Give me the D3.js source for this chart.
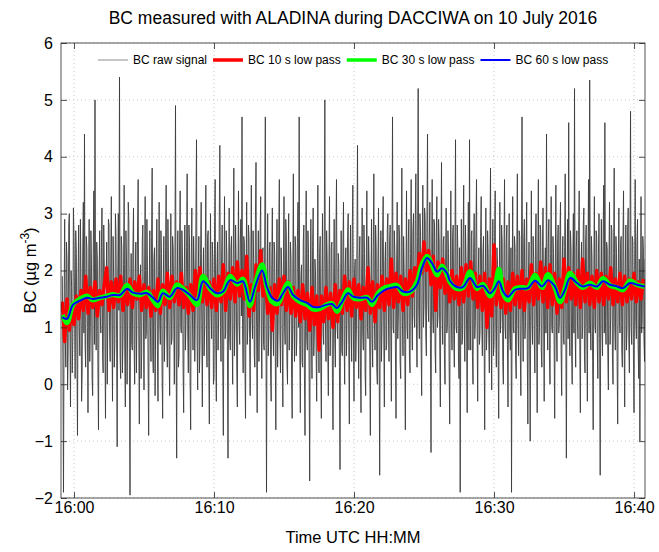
<!DOCTYPE html>
<html>
<head>
<meta charset="utf-8">
<script src="https://cdn.jsdelivr.net/npm/d3@7"></script>
<style>
	body { margin: 0; background: #fff; }
	text { font-family: "Liberation Sans", Arial, Helvetica, sans-serif; fill: #000; }
</style>
</head>
<body>
<div id="chart"></div>
<script>
// all times are seconds after 16:00:00 UTC, 10 July 2016
const rawStart = -50;
const rawStep = 2.5;
const rawSignal = [
	1.9,0.4, -1.9,1.2, 2.9,0.8, 0.3,2.5, 2.2,-0.1, 0.6,2.8, 3.0,1.1, -0.4,2.0, 1.7,0.2, 0.8,3.1, 2.6,1.4, 0.1,2.7, 2.3,0.6, -0.9,1.8, 2.8,1.0, 0.5,2.9, 1.9,-0.3, 0.2,2.4, 3.2,0.9, 4.4,0.7,
	0.3,2.6, 2.4,1.0, -0.5,1.7, 2.9,0.4, 1.0,2.7, 2.1,0.1, -0.2,2.3, 3.4,0.7, 5.0,1.5, 0.6,2.5, 2.2,0.3, -0.8,1.9, 2.7,1.2, 0.9,2.4, 3.1,0.5, 0.2,2.8, 2.0,0.8, -0.6,1.6, 2.5,0.0, 1.2,2.9,
	2.8,0.9, 0.4,2.2, 3.3,1.1, -0.3,2.6, 1.9,0.3, 0.7,3.0, 2.6,0.8, -1.1,1.9, 3.0,1.3, 5.4,0.5, 0.1,2.6, 2.4,0.2, 0.8,2.1, 3.5,0.6, -0.4,2.7, 2.2,0.0, 1.1,3.2, 2.9,0.4, -1.95,1.4, 2.3,0.7,
	0.6,2.4, 3.1,0.7, 0.0,1.9, 2.5,0.2, 1.3,2.8, 3.6,0.9, -0.7,1.6, 2.1,0.1, 0.5,2.5, 2.8,1.2, -0.1,2.0, 3.3,0.8, 0.9,2.9, 2.0,0.3, -0.9,1.7, 2.7,1.0, 0.4,2.6, 3.8,0.5, 0.2,2.2, 2.4,-0.2,
	1.0,2.2, 2.9,0.6, -0.3,2.0, 3.2,1.1, 0.7,2.7, 2.3,0.2, -0.6,1.8, 2.6,0.4, 1.2,2.4, 3.5,0.9, 0.3,2.9, 2.1,0.5, -0.2,1.5, 3.0,0.7, 0.8,2.6, 2.4,1.2, 0.0,2.1, 4.9,0.8, -1.3,1.9, 2.7,0.3,
	0.5,2.5, 3.4,1.0, 0.9,2.7, 2.2,0.3, -0.5,1.9, 2.8,0.6, 1.1,2.4, 3.7,0.9, 0.2,2.8, 2.5,0.1, -0.8,2.2, 3.1,1.2, 0.6,2.6, 2.0,0.4, 1.3,2.9, 4.3,0.8, -0.1,2.0, 2.6,0.2, 0.7,2.3, 3.2,1.1,
	-0.4,1.8, 2.4,0.5, 1.0,2.3, 3.5,0.9, 0.3,2.6, 2.7,0.4, -0.7,1.7, 3.0,1.3, 0.8,2.5, 2.2,0.0, 0.1,2.8, 3.6,0.7, -0.3,2.0, 2.5,0.6, 1.2,2.9, 4.2,1.0, 0.4,2.2, 2.8,0.3, -0.9,1.6, 3.3,0.8,
	0.9,2.7, 2.3,0.6, -1.3,1.5, 3.1,0.8, 0.6,2.4, 2.6,1.0, 0.0,2.2, 3.8,0.5, 1.1,2.8, 2.1,0.3, -0.4,1.9, 3.4,1.1, 0.7,2.5, 2.9,1.2, 4.7,0.9, 0.2,2.6, 2.5,0.4, -0.6,2.0, 3.2,0.7, 1.0,2.8,
	2.6,0.8, -0.2,2.0, 3.5,1.2, 0.8,2.7, 2.2,0.5, 0.3,2.9, 3.9,1.0, -0.5,1.8, 2.7,0.4, 1.2,2.6, 3.3,0.9, 0.1,2.3, 2.4,0.7, 0.6,2.8, 4.7,1.3, -1.9,1.6, 3.0,0.5, 0.9,2.4, 2.5,0.2, -0.3,2.1,
	3.1,1.1, 0.5,2.5, 2.3,0.6, -0.8,1.9, 2.9,0.3, 1.0,2.7, 3.6,0.9, 0.2,2.4, 2.0,0.8, -0.4,2.2, 3.3,1.0, 0.7,2.9, 2.6,0.4, 0.0,2.0, 3.0,0.6, 1.3,2.5, 2.2,0.1, -0.6,1.8, 3.7,1.2, 0.4,2.6,
	2.4,0.5, 0.8,2.6, 3.2,1.0, 4.7,0.7, -0.5,1.9, 2.1,0.4, 0.3,2.5, 2.8,0.2, -0.9,1.6, 3.4,0.8, 0.6,2.7, 2.3,0.3, -1.7,1.4, 2.9,0.9, 0.1,2.4, 3.1,0.5, 0.9,2.2, 2.0,0.6, -0.3,1.8, 3.5,1.0,
	0.2,2.3, 2.6,0.4, -0.6,1.8, 3.0,0.9, 0.7,2.5, 5.0,1.1, 0.4,2.7, 2.2,0.6, -0.2,2.1, 3.3,0.5, 1.0,2.4, 2.5,0.1, -0.8,1.7, 2.9,0.8, 0.3,2.6, 3.6,1.0, 0.8,2.3, 2.1,0.3, -1.5,1.5, 2.7,0.6,
	0.5,2.4, 3.2,0.8, 0.0,2.1, 2.4,0.5, 1.1,2.6, 3.0,0.7, -0.7,1.9, 2.8,1.0, 0.4,2.7, 3.5,0.9, -0.3,2.0, 2.2,0.4, 0.9,2.5, 4.2,1.2, 0.1,2.2, 2.6,0.3, -0.5,1.8, 3.1,0.9, 0.6,2.8, 2.3,0.2,
	-0.2,2.0, 3.4,1.0, 0.8,2.6, 2.1,0.5, -0.9,1.7, 2.9,0.8, 0.3,2.4, 3.7,1.1, 0.6,2.8, 2.4,0.3, 0.0,2.2, 3.1,0.7, -1.6,1.5, 2.7,0.4, 1.0,2.6, 3.3,0.9, -0.4,2.1, 2.5,0.6, 0.7,2.7, 3.0,1.2,
	0.4,2.5, 2.8,0.9, -0.3,2.2, 4.7,1.0, 0.9,2.7, 2.3,0.6, -0.6,1.9, 3.2,0.8, 1.2,2.8, 2.6,0.4, 0.1,2.4, 3.8,1.1, 0.5,2.6, 2.0,0.7, -0.8,1.8, 3.4,1.0, 0.8,2.5, 2.9,0.5, 0.2,2.3, 3.6,1.3,
	0.6,2.7, 3.0,1.2, 1.0,2.9, 3.7,1.1, 0.3,2.6, 5.2,1.3, 0.8,3.0, 2.7,0.7, -0.2,2.4, 3.5,1.0, 1.4,3.1, 2.9,0.9, 0.5,2.8, 4.4,1.4, 1.1,2.5, 3.2,0.8, -1.2,2.0, 3.6,1.2, 0.9,2.9, 2.8,0.6,
	0.2,2.6, 3.3,1.0, 1.2,2.9, 2.5,0.6, -0.4,2.3, 3.9,1.2, 0.7,2.5, 2.6,0.5, 0.0,2.2, 3.1,0.9, 1.0,2.7, 2.3,0.4, -0.7,1.9, 3.4,1.1, 0.6,2.6, 2.8,0.8, 0.3,2.4, 4.3,1.0, 0.9,2.8, 2.4,0.5,
	0.1,2.4, -1.9,1.3, 2.9,0.7, 0.8,2.5, 3.5,1.0, 0.4,2.8, 2.2,0.9, -0.5,2.1, 3.2,0.6, 4.3,1.2, 0.6,2.6, 2.7,0.5, 0.0,2.3, 3.0,0.8, 1.1,2.7, 3.6,1.0, -0.3,2.0, 2.4,0.7, 0.9,2.6, 3.3,1.1,
	0.5,2.3, 2.6,0.9, -0.8,1.8, 3.1,0.6, 1.0,2.7, 2.3,0.8, 0.2,2.5, 3.8,1.1, -0.1,2.0, 2.9,0.5, 0.7,2.6, 3.4,1.0, 0.3,2.4, 2.1,0.6, -0.6,1.7, 3.2,0.9, 1.2,2.8, 2.5,0.4, 0.0,2.2, 3.6,1.0,
	0.8,2.5, 2.8,0.7, -0.4,2.0, 3.0,0.9, 0.6,2.4, -1.9,1.4, 3.3,1.0, 0.9,2.6, 2.4,0.5, 0.1,2.3, 3.7,1.1, 0.5,2.7, 2.6,0.6, -0.2,2.1, 4.7,1.2, 0.4,2.5, 2.9,0.8, 1.1,2.4, 3.2,0.6, -0.7,1.9,
	2.5,0.9, -1.0,1.6, 3.4,1.1, 0.7,2.6, 2.2,0.8, 0.2,2.5, 3.0,1.0, -0.5,2.2, 3.6,0.7, 1.0,2.8, 2.7,0.6, 0.3,2.4, 3.1,1.2, -0.3,2.0, 2.4,0.9, 4.4,1.3, 0.6,2.5, 2.9,0.5, 0.0,2.3, 3.3,1.0,
	0.9,2.6, 2.3,0.7, -0.6,1.9, 3.5,1.0, 0.4,2.5, 2.8,0.9, 1.1,2.7, 3.2,0.6, -0.2,2.2, 2.6,0.8, 0.7,2.4, 3.7,1.2, -1.3,1.6, 2.9,0.8, 4.6,1.1, 0.5,2.7, 2.4,0.6, 0.0,2.1, 3.0,0.9, 5.2,1.0,
	0.3,2.4, 2.7,1.1, 0.8,2.6, 3.4,0.7, -0.5,2.0, 2.5,0.8, 1.0,2.8, 3.1,0.5, 0.2,2.5, 2.8,1.0, -0.3,2.1, 3.6,0.9, 5.35,1.2, 0.6,2.6, 2.2,0.4, -0.8,1.8, 3.3,1.0, 0.9,2.7, 2.6,0.7, 0.1,2.3,
	3.0,0.8, -1.6,1.5, 2.9,1.0, 0.5,2.6, 3.5,0.9, 4.6,1.1, 0.7,2.5, 2.4,0.6, -0.1,2.2, 3.2,0.7, 1.2,2.8, 2.7,0.5, 0.0,2.3, 3.8,1.0, 0.6,2.6, 2.3,0.4, -0.7,1.9, 3.1,1.1, 0.9,2.5, 2.6,0.6,
	0.3,2.5, 3.4,0.9, -0.4,2.1, 2.8,0.6, 1.0,2.7, 3.1,0.8, 0.2,2.4, 4.8,1.0, 0.7,2.6, 2.5,0.5, -0.5,2.0, 3.6,1.1, 0.8,2.5, 2.9,0.7, 0.1,2.2, -1.0,1.5, 3.3,0.9, 1.1,2.6, 2.4,0.8, 0.4,2.2
];

const lp10Start = -50;
const lp10Step = 10;
const lowPass10 = [
	1.45, 0.75, 1.50, 0.95, 1.35, 1.05, 1.55, 1.15, 1.65, 1.30,
	1.90, 1.25, 1.70, 1.35, 1.80, 1.20, 1.65, 1.40, 1.75, 2.05,
	1.30, 1.80, 1.35, 1.85, 1.45, 1.90, 1.30, 1.75, 1.40, 1.85,
	1.35, 1.80, 1.50, 1.90, 1.30, 1.75, 1.35, 1.70, 1.20, 1.65,
	1.30, 1.85, 1.25, 1.75, 1.40, 1.95, 1.35, 1.90, 1.45, 1.80,
	1.40, 1.95, 1.35, 1.70, 1.25, 1.75, 1.30, 2.00, 1.55, 2.05,
	1.45, 1.90, 1.40, 1.80, 1.35, 1.85, 1.30, 1.90, 1.45, 2.10,
	1.30, 1.95, 1.50, 2.05, 1.45, 2.15, 1.55, 2.00, 1.50, 2.25,
	1.20, 1.75, 1.30, 2.10, 1.65, 2.35, 1.55, 1.90, 1.25, 1.70,
	0.95, 1.75, 1.25, 1.85, 1.40, 1.90, 1.30, 1.80, 1.25, 1.70,
	1.20, 1.65, 1.10, 1.75, 1.15, 1.60, 0.95, 1.70, 1.05, 1.55,
	0.60, 1.55, 1.10, 1.70, 1.15, 1.60, 1.00, 1.75, 1.10, 1.65,
	1.25, 1.90, 1.30, 1.80, 1.20, 1.85, 1.35, 1.75, 1.15, 1.70,
	1.30, 2.05, 1.25, 1.80, 1.10, 1.75, 1.35, 1.90, 1.30, 1.85,
	1.40, 2.20, 1.35, 1.95, 1.45, 1.90, 1.30, 1.85, 1.40, 2.00,
	1.55, 2.05, 1.80, 2.30, 1.95, 2.50, 2.00, 2.35, 1.75, 2.25,
	1.30, 2.15, 1.70, 2.20, 1.60, 1.95, 1.45, 2.00, 1.50, 1.90,
	1.40, 2.05, 1.45, 2.10, 1.55, 2.15, 1.50, 1.95, 1.35, 1.90,
	1.30, 1.95, 1.00, 1.85, 1.20, 2.45, 1.40, 1.90, 1.35, 1.85,
	1.25, 1.80, 1.30, 1.95, 1.40, 1.90, 1.35, 2.00, 1.30, 1.85,
	1.45, 2.10, 1.40, 1.95, 1.50, 2.15, 1.45, 2.05, 1.35, 2.10,
	1.40, 1.95, 1.25, 1.85, 1.35, 2.20, 1.45, 2.05, 1.50, 1.95,
	1.40, 2.00, 1.35, 2.20, 1.45, 1.95, 1.40, 1.90, 1.35, 2.00,
	1.45, 1.95, 1.40, 1.90, 1.50, 2.05, 1.40, 1.85, 1.45, 1.95,
	1.40, 1.90, 1.45, 1.85, 1.50, 1.95, 1.45, 1.80, 1.50, 1.85
];

// 30 s and 60 s filtered series share one time base
const smoothTime = [
	-50, -30, -4, 26, 56, 81, 111, 141, 167, 197,
	227, 253, 283, 313, 339, 360, 381, 411, 441, 467,
	497, 527, 553, 583, 613, 639, 669, 699, 724, 754,
	776, 806, 827, 849, 874, 896, 917, 939, 969, 999,
	1024, 1054, 1084, 1106, 1127, 1149, 1174, 1196, 1226, 1256,
	1277, 1303, 1333, 1354, 1384, 1410, 1440, 1470, 1491, 1513,
	1534, 1556, 1577, 1599, 1611, 1641, 1667, 1697, 1727, 1753,
	1783, 1804, 1821, 1839, 1860, 1890, 1920, 1946, 1976, 2006,
	2031, 2061, 2083, 2104, 2126, 2156, 2181, 2211, 2241, 2267,
	2297, 2327, 2353, 2383, 2413, 2445
];
const lowPass30 = [
	1.22, 1.08, 1.40, 1.50, 1.55, 1.48, 1.52, 1.55, 1.58, 1.56,
	1.74, 1.60, 1.57, 1.62, 1.48, 1.38, 1.64, 1.52, 1.75, 1.68,
	1.55, 1.40, 1.90, 1.68, 1.57, 1.63, 1.90, 1.76, 1.85, 1.38,
	1.75, 2.10, 1.70, 1.45, 1.42, 1.62, 1.78, 1.55, 1.45, 1.40,
	1.32, 1.33, 1.40, 1.42, 1.28, 1.46, 1.66, 1.52, 1.50, 1.53,
	1.40, 1.60, 1.70, 1.72, 1.74, 1.60, 1.62, 1.80, 2.10, 2.25,
	2.10, 1.92, 2.08, 1.92, 1.80, 1.68, 1.70, 1.98, 1.68, 1.76,
	1.55, 1.72, 2.02, 1.60, 1.48, 1.68, 1.70, 1.70, 1.92, 1.70,
	1.93, 1.70, 1.45, 1.68, 1.95, 1.78, 1.70, 1.78, 1.70, 1.86,
	1.74, 1.70, 1.66, 1.82, 1.75, 1.72
];
const lowPass60 = [
	1.18, 1.15, 1.40, 1.47, 1.52, 1.50, 1.52, 1.54, 1.57, 1.57,
	1.68, 1.61, 1.59, 1.60, 1.52, 1.45, 1.60, 1.54, 1.69, 1.66,
	1.57, 1.48, 1.81, 1.69, 1.60, 1.63, 1.83, 1.78, 1.81, 1.45,
	1.71, 2.00, 1.71, 1.52, 1.47, 1.60, 1.71, 1.57, 1.48, 1.43,
	1.36, 1.36, 1.40, 1.41, 1.34, 1.45, 1.60, 1.54, 1.52, 1.52,
	1.45, 1.57, 1.66, 1.69, 1.71, 1.63, 1.63, 1.75, 2.04, 2.22,
	2.13, 1.98, 2.04, 1.95, 1.82, 1.71, 1.71, 1.87, 1.71, 1.73,
	1.60, 1.69, 1.81, 1.63, 1.54, 1.66, 1.68, 1.69, 1.82, 1.72,
	1.83, 1.72, 1.52, 1.66, 1.87, 1.78, 1.72, 1.75, 1.72, 1.81,
	1.75, 1.72, 1.69, 1.78, 1.75, 1.72
];

const seriesNames = ["BC raw signal", "BC 10 s low pass", "BC 30 s low pass", "BC 60 s low pass"];
const xTickValues = [0, 600, 1200, 1800, 2400];
const xTickLabels = ["16:00", "16:10", "16:20", "16:30", "16:40"];
const yTickValues = [-2, -1, 0, 1, 2, 3, 4, 5, 6];

const width = 659, height = 552;
const margin = {top: 43, right: 14, bottom: 54, left: 61};
const plotW = width - margin.left - margin.right;
const plotH = height - margin.top - margin.bottom;

const x = d3.scaleLinear().domain([-55.7, 2447]).range([0, plotW]);
const y = d3.scaleLinear().domain([-2, 6]).range([plotH, 0]);

const svg = d3.select("#chart")
	.append("svg")
	.attr("width", width)
	.attr("height", height);

svg.append("rect").attr("width", width).attr("height", height).attr("fill", "#fff");

const g = svg.append("g")
	.attr("transform", "translate(" + margin.left + "," + margin.top + ")");

svg.append("defs").append("clipPath").attr("id", "plotClip")
	.append("rect").attr("width", plotW).attr("height", plotH);

// dotted grid
g.append("g").selectAll("line").data(xTickValues).enter()
	.append("line")
	.attr("x1", (d) => x(d)).attr("x2", (d) => x(d))
	.attr("y1", 0).attr("y2", plotH)
	.attr("stroke", "#bdbdbd").attr("stroke-width", 0.8)
	.attr("stroke-dasharray", "1,3");
g.append("g").selectAll("line").data(yTickValues).enter()
	.append("line")
	.attr("x1", 0).attr("x2", plotW)
	.attr("y1", (d) => y(d)).attr("y2", (d) => y(d))
	.attr("stroke", "#bdbdbd").attr("stroke-width", 0.8)
	.attr("stroke-dasharray", "1,3");

const plot = g.append("g").attr("clip-path", "url(#plotClip)");

const rawData = rawSignal.map((v, i) => [rawStart + i*rawStep, v]);
const lp10Data = lowPass10.map((v, i) => [lp10Start + i*lp10Step, v]);
const lp30Data = lowPass30.map((v, i) => [smoothTime[i], v]);
const lp60Data = lowPass60.map((v, i) => [smoothTime[i], v]);

const straight = d3.line().x((d) => x(d[0])).y((d) => y(d[1]));
const smooth = d3.line().x((d) => x(d[0])).y((d) => y(d[1])).curve(d3.curveCatmullRom.alpha(0.5));

plot.append("path").datum(rawData)
	.attr("d", straight)
	.attr("fill", "none")
	.attr("stroke", "#3c3c3c")
	.attr("stroke-width", 0.9);

plot.append("path").datum(lp10Data)
	.attr("d", straight)
	.attr("fill", "none")
	.attr("stroke", "#ff0000")
	.attr("stroke-width", 3.5)
	.attr("stroke-linejoin", "round");

plot.append("path").datum(lp30Data)
	.attr("d", smooth)
	.attr("fill", "none")
	.attr("stroke", "#00ff00")
	.attr("stroke-width", 5);

plot.append("path").datum(lp60Data)
	.attr("d", smooth)
	.attr("fill", "none")
	.attr("stroke", "#0000ff")
	.attr("stroke-width", 2);

// axes, ticks pointing inward on all four sides
const xAxis = g.append("g")
	.attr("transform", "translate(0," + plotH + ")")
	.call(d3.axisBottom(x).tickValues(xTickValues)
		.tickFormat((d, i) => xTickLabels[i])
		.tickSizeInner(-6).tickSizeOuter(0).tickPadding(4));
const xAxisTop = g.append("g")
	.call(d3.axisTop(x).tickValues(xTickValues).tickFormat("")
		.tickSizeInner(-6).tickSizeOuter(0));
const yAxis = g.append("g")
	.call(d3.axisLeft(y).tickValues(yTickValues)
		.tickSizeInner(-6).tickSizeOuter(0).tickPadding(8));
const yAxisRight = g.append("g")
	.attr("transform", "translate(" + plotW + ",0)")
	.call(d3.axisRight(y).tickValues(yTickValues).tickFormat("")
		.tickSizeInner(-6).tickSizeOuter(0));

[xAxis, xAxisTop, yAxis, yAxisRight].forEach((a) => {
	a.select(".domain").remove();
	a.selectAll(".tick line").attr("stroke", "#262626").attr("stroke-width", 0.8);
	a.selectAll("text")
		.attr("font-family", "\"Liberation Sans\", Arial, sans-serif")
		.attr("font-size", 16).attr("fill", "#000");
});

g.append("rect")
	.attr("width", plotW).attr("height", plotH)
	.attr("fill", "none")
	.attr("stroke", "#262626")
	.attr("stroke-width", 0.8);

// legend, no box
const legendColors = ["#8c8c8c", "#ff0000", "#00ff00", "#0000ff"];
const legendWidths = [1, 3.5, 3.5, 2];
const legend = svg.append("g").attr("transform", "translate(98,60)");
let lx = 0;
seriesNames.forEach((name, i) => {
	legend.append("line")
		.attr("x1", lx).attr("x2", lx + 30)
		.attr("y1", 0).attr("y2", 0)
		.attr("stroke", legendColors[i])
		.attr("stroke-width", legendWidths[i]);
	const t = legend.append("text")
		.attr("x", lx + 35).attr("y", 4.3)
		.attr("font-size", 12)
		.text(name);
	lx += 35 + t.node().getComputedTextLength() + 6;
});

svg.append("text")
	.attr("x", margin.left + plotW/2).attr("y", 24)
	.attr("text-anchor", "middle")
	.attr("font-size", 17.5)
	.text("BC measured with ALADINA during DACCIWA on 10 July 2016");

svg.append("text")
	.attr("x", margin.left + plotW/2).attr("y", 543)
	.attr("text-anchor", "middle")
	.attr("font-size", 16.5)
	.text("Time UTC HH:MM");

const yLabel = svg.append("text")
	.attr("transform", "translate(36," + (margin.top + plotH/2) + ") rotate(-90)")
	.attr("text-anchor", "middle")
	.attr("font-size", 16.5);
yLabel.append("tspan").text("BC (µg m");
yLabel.append("tspan").attr("dy", -7).attr("font-size", 12).text("-3");
yLabel.append("tspan").attr("dy", 7).text(")");
</script>
</body>
</html>
